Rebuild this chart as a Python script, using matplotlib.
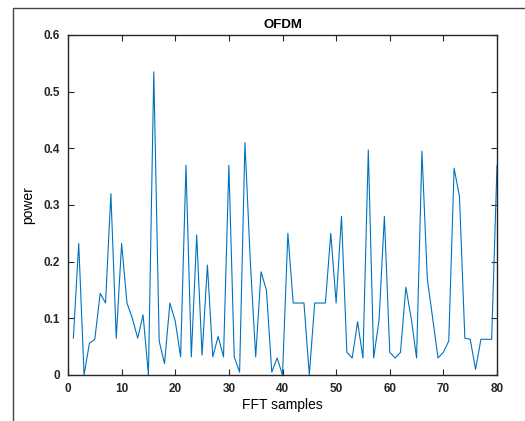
import matplotlib
matplotlib.use("Agg")
import matplotlib.pyplot as plt
from matplotlib.patches import Rectangle

# FFT sample index and power
samples = list(range(1, 81))
power = [
    0.065, 0.232, 0.0, 0.056, 0.063, 0.144, 0.127, 0.32, 0.065, 0.232,
    0.127, 0.10, 0.065, 0.106, 0.0, 0.535, 0.06, 0.02, 0.127, 0.095,
    0.032, 0.37, 0.032, 0.247, 0.035, 0.194, 0.032, 0.068, 0.032, 0.37,
    0.032, 0.005, 0.41, 0.20, 0.032, 0.182, 0.15, 0.005, 0.03, 0.0,
    0.25, 0.127, 0.127, 0.127, 0.0, 0.127, 0.127, 0.127, 0.25, 0.127,
    0.28, 0.04, 0.03, 0.094, 0.03, 0.397, 0.03, 0.097, 0.28, 0.04,
    0.03, 0.04, 0.155, 0.10, 0.03, 0.395, 0.17, 0.10, 0.03, 0.04,
    0.06, 0.365, 0.315, 0.065, 0.063, 0.01, 0.063, 0.063, 0.063, 0.37,
]
x_ticks = [0, 10, 20, 30, 40, 50, 60, 70, 80]
y_ticks = [0, 0.1, 0.2, 0.3, 0.4, 0.5, 0.6]
y_labels = ["0", "0.1", "0.2", "0.3", "0.4", "0.5", "0.6"]

plt.rcParams['font.family'] = ['Liberation Sans', 'DejaVu Sans']

fig = plt.figure(figsize=(5.25, 4.21), dpi=100)
ax = fig.add_axes([0.1295, 0.1093, 0.8172, 0.8076])

ax.plot(samples, power, color="#0072BD", linewidth=0.8)

ax.set_xlim(0, 80)
ax.set_ylim(0, 0.6)
ax.set_xticks(x_ticks)
ax.set_xticklabels([str(t) for t in x_ticks], fontweight="bold")
ax.set_yticks(y_ticks)
ax.set_yticklabels(y_labels, fontweight="bold")
ax.tick_params(direction="in", top=True, right=True, length=4, width=0.8,
               labelsize=8.5, colors="#262626", pad=6)
for s in ax.spines.values():
    s.set_color("#262626")
    s.set_linewidth(1.0)

ax.set_title("OFDM", fontsize=9.5, fontweight="bold", pad=5)
ax.set_xlabel("FFT samples", fontsize=10, labelpad=2)
ax.set_ylabel("power", fontsize=10, labelpad=6)

# outer frame of the screenshot (open to the right and bottom)
fig.patches.append(Rectangle((13 / 525, -0.1), 1.2, 0.1 + (421 - 8) / 421,
                             transform=fig.transFigure, fill=False,
                             edgecolor="#444444", linewidth=1.0))

fig.savefig("out.png", dpi=100)
